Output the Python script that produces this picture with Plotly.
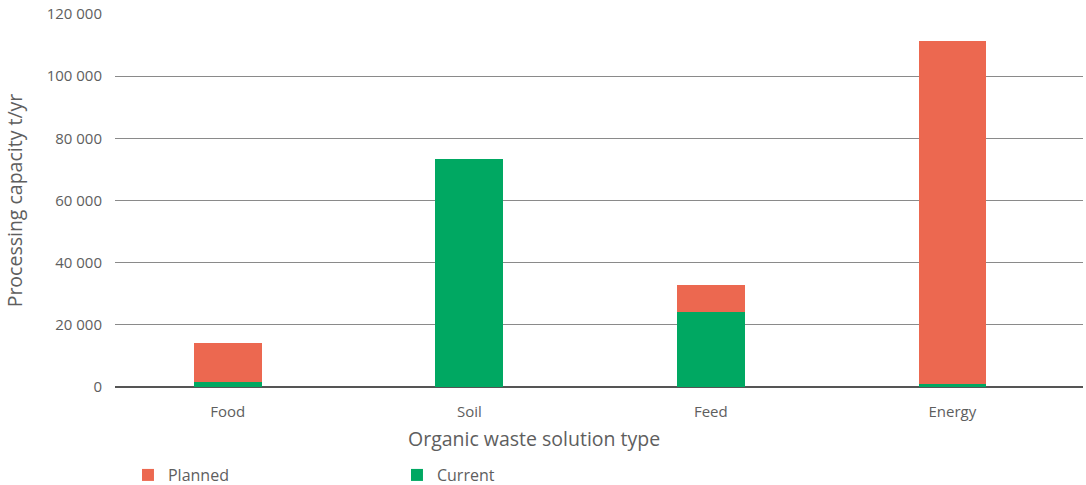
import plotly.graph_objects as go

# Processing capacity by organic waste solution type (t/yr)
categories = ["Food", "Soil", "Feed", "Energy"]
current = [1600, 73400, 24100, 1000]
planned = [12600, 0, 8700, 110300]
y_ticks = [0, 20000, 40000, 60000, 80000, 100000, 120000]
y_tick_labels = ["0", "20 000", "40 000", "60 000", "80 000", "100 000", "120 000"]
x_title = "Organic waste solution type"

ORANGE = "#EC6850"
GREEN = "#00A862"
TEXT = "#5e5e5e"
FONT = "'Open Sans', sans-serif"

fig = go.Figure()
fig.add_trace(go.Bar(name="Current", x=categories, y=current, marker_color=GREEN,
                     marker_line_width=0, width=0.28, legendrank=2))
fig.add_trace(go.Bar(name="Planned", x=categories, y=planned, marker_color=ORANGE,
                     marker_line_width=0, width=0.28, legendrank=1))

# x-axis title, centred on the page rather than the plot area
fig.add_annotation(text=x_title, xref="paper", yref="paper", x=0.433, y=-0.137,
                   xanchor="center", yanchor="middle", showarrow=False,
                   font=dict(size=19.5, color=TEXT))

fig.update_layout(
    barmode="stack",
    width=1086, height=485,
    margin=dict(l=115, r=3, t=14, b=98, autoexpand=False),
    paper_bgcolor="white", plot_bgcolor="white",
    font=dict(family=FONT, color=TEXT, size=14),
    showlegend=True,
    legend=dict(orientation="h", x=0.0134, xref="paper", y=-0.236, yanchor="middle",
                xanchor="left", entrywidth=224, entrywidthmode="pixels",
                font=dict(size=16, color=TEXT), traceorder="normal",
                itemwidth=30),
    xaxis=dict(
        range=[-0.467, 3.541],
        showgrid=False, showline=False,
        ticks="outside", ticklen=11, tickcolor="rgba(0,0,0,0)",
        tickfont=dict(size=15, color=TEXT),
        automargin=False,
    ),
    yaxis=dict(
        range=[0, 120000],
        tickvals=y_ticks, ticktext=y_tick_labels,
        showgrid=True, gridcolor="#8a8a8a", gridwidth=1,
        zeroline=True, zerolinecolor="#555555", zerolinewidth=2,
        showline=False, ticks="",
        tickfont=dict(size=15, color=TEXT),
        ticklabelstandoff=12,
        automargin=False,
        title=dict(text="Processing capacity t/yr", font=dict(size=19.5, color=TEXT),
                   standoff=18),
    ),
)

fig.write_html("out.html")
